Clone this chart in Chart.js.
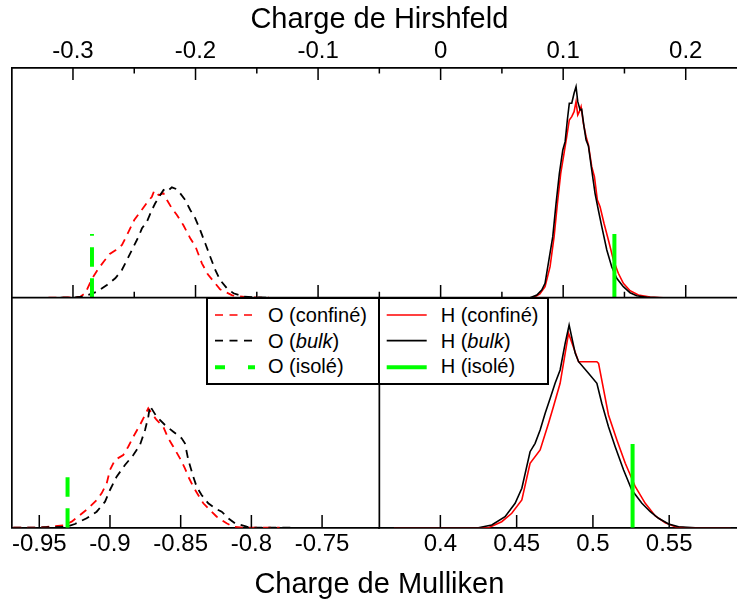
<!DOCTYPE html>
<html>
<head>
<meta charset="utf-8">
<script src="https://cdn.jsdelivr.net/npm/chart.js@4"></script>
<style>
html, body { margin: 0; padding: 0; overflow: hidden; background: #fff; }
#wrap { position: relative; width: 747px; height: 605px; }
#c { position: absolute; left: 0; top: 0; }
.box { position: absolute; box-sizing: border-box; border: 2px solid #000; background: #fff; }
.sep { position: absolute; background: #000; }
.txt { position: absolute; font: 20px "Liberation Sans", Arial, sans-serif; line-height: 20px; color: #000; white-space: nowrap; }
svg { position: absolute; left: 0; top: 0; }
</style>
</head>
<body>
<div id="wrap">
<canvas id="c" width="747" height="605"></canvas>
<div class="box" style="left:206px;top:297px;width:343px;height:88px"></div>
<div class="sep" style="left:378px;top:297px;width:2px;height:88px"></div>
<svg width="747" height="605">
  <line x1="215" y1="315" x2="255" y2="315" stroke="#ff0000" stroke-width="1.7" stroke-dasharray="8 6.5"/>
  <line x1="215" y1="340.7" x2="255" y2="340.7" stroke="#000" stroke-width="1.7" stroke-dasharray="8 6.5"/>
  <line x1="215" y1="367.3" x2="255" y2="367.3" stroke="#00ff00" stroke-width="4" stroke-dasharray="10 23"/>
  <line x1="386.7" y1="315" x2="426.7" y2="315" stroke="#ff0000" stroke-width="1.7"/>
  <line x1="386.7" y1="340.7" x2="426.7" y2="340.7" stroke="#000" stroke-width="1.7"/>
  <line x1="386.7" y1="367.3" x2="426.7" y2="367.3" stroke="#00ff00" stroke-width="4"/>
</svg>
<div class="txt" style="left:268px;top:304.7px">O (confiné)</div>
<div class="txt" style="left:268px;top:330.7px">O (<i>bulk</i>)</div>
<div class="txt" style="left:268px;top:356px">O (isolé)</div>
<div class="txt" style="left:440.7px;top:304.7px">H (confiné)</div>
<div class="txt" style="left:440.7px;top:330.7px">H (<i>bulk</i>)</div>
<div class="txt" style="left:440.7px;top:356px">H (isolé)</div>
</div>
<script>
// Hirshfeld charges (top panel)
const hirOConfX = [-0.32, -0.30, -0.294, -0.29, -0.2845, -0.28, -0.275, -0.27, -0.265, -0.26, -0.2546, -0.25, -0.245, -0.24, -0.2356, -0.2337, -0.2302, -0.2261, -0.2233, -0.2193, -0.2152, -0.21, -0.2043, -0.20, -0.1948, -0.19, -0.18, -0.17, -0.16, -0.15, -0.14]
const hirOConfY = [0, 0.04, 0.1, 0.44, 1.9, 2.77, 3.6, 4.37, 4.77, 5.27, 6.6, 7.77, 8.6, 9.44, 10.1, 10.7, 10.27, 10.44, 9.77, 8.94, 8.27, 7.27, 5.94, 5.1, 3.44, 2.34, 0.84, 0.24, 0.07, 0.02, 0]

const hirOBulkX = [-0.31, -0.30, -0.2913, -0.2804, -0.2723, -0.2655, -0.2601, -0.2546, -0.2506, -0.2465, -0.2437, -0.2397, -0.2356, -0.2329, -0.2288, -0.2261, -0.2233, -0.2193, -0.2152, -0.2125, -0.2084, -0.2043, -0.2002, -0.1962, -0.1921, -0.188, -0.1839, -0.1799, -0.1744, -0.169, -0.1608, -0.15, -0.14]
const hirOBulkY = [0, 0.02, 0.1, 0.6, 1.27, 1.94, 2.77, 4.1, 5.1, 6.1, 6.94, 7.6, 8.77, 9.44, 10.27, 10.77, 10.6, 11.04, 10.84, 10.44, 9.77, 8.77, 7.94, 6.77, 5.44, 4.1, 2.77, 1.77, 0.94, 0.44, 0.1, 0.04, 0]

const hirHConfX = [0.06, 0.0757, 0.081, 0.0852, 0.0893, 0.0926, 0.0953, 0.098, 0.1007, 0.1029, 0.105, 0.107, 0.1089, 0.1105, 0.1119, 0.1132, 0.1146, 0.1165, 0.1187, 0.1206, 0.1233, 0.1255, 0.1279, 0.1301, 0.1333, 0.1369, 0.141, 0.145, 0.1491, 0.1546, 0.1614, 0.171, 0.1817, 0.20]
const hirHConfY = [0, 0, 0.37, 1.1, 3.1, 6.1, 9.44, 12.44, 14.44, 16.1, 17.77, 18.1, 18.6, 19.6, 18.27, 18.6, 19.1, 17.44, 16.1, 15.27, 13.1, 12.1, 9.77, 9.1, 7.44, 5.77, 3.77, 2.44, 1.44, 0.7, 0.27, 0.07, 0, 0]

const hirHBulkX = [0.06, 0.073, 0.0785, 0.0825, 0.0852, 0.0888, 0.0915, 0.0942, 0.0969, 0.0997, 0.1016, 0.1034, 0.105, 0.107, 0.1089, 0.1105, 0.1119, 0.1138, 0.1151, 0.117, 0.1187, 0.1206, 0.1233, 0.126, 0.1287, 0.1315, 0.1356, 0.1396, 0.1437, 0.1491, 0.1546, 0.16, 0.1682, 0.179, 0.20]
const hirHBulkY = [0, 0, 0.27, 0.77, 1.44, 4.1, 6.1, 9.44, 12.44, 14.77, 15.6, 17.77, 19.44, 19.44, 20.44, 21.1, 19.6, 18.77, 18.84, 17.1, 15.77, 15.17, 12.77, 10.44, 8.77, 7.1, 4.77, 3.1, 1.94, 1.1, 0.5, 0.2, 0.04, 0, 0]

// Mulliken charges (bottom panel)
const mulOConfX = [-0.9684, -0.9542, -0.9448, -0.933, -0.9271, -0.9212, -0.9153, -0.9094, -0.9059, -0.9023, -0.90, -0.8965, -0.8906, -0.8871, -0.8835, -0.8788, -0.8752, -0.8729, -0.8705, -0.867, -0.8623, -0.8588, -0.8552, -0.8505, -0.847, -0.8446, -0.8411, -0.8376, -0.834, -0.8293, -0.8245, -0.8175, -0.8128, -0.8057, -0.78]
const mulOConfY = [0, 0, 0.07, 0.24, 0.6, 1.27, 1.94, 2.77, 3.44, 4.44, 5.77, 6.77, 7.27, 8.1, 9.1, 10.27, 11.27, 11.94, 11.44, 10.77, 10.1, 8.94, 8.1, 6.94, 5.94, 5.1, 4.1, 3.27, 2.44, 1.77, 1.1, 0.44, 0.1, 0, 0]

const mulOBulkX = [-0.9684, -0.9542, -0.9306, -0.9248, -0.9165, -0.9094, -0.9035, -0.90, -0.8953, -0.8894, -0.8835, -0.8788, -0.8752, -0.8729, -0.8717, -0.867, -0.8611, -0.8552, -0.8493, -0.847, -0.8446, -0.8411, -0.8387, -0.8352, -0.8305, -0.8257, -0.821, -0.8163, -0.8116, -0.8033, -0.7987, -0.77]
const mulOBulkY = [0, 0, 0.1, 0.37, 0.94, 1.6, 2.6, 3.77, 5.1, 6.27, 7.27, 8.27, 9.77, 11.1, 12.17, 11.1, 10.27, 9.6, 8.94, 8.44, 6.77, 5.1, 4.1, 3.27, 2.44, 1.94, 1.6, 0.94, 0.44, 0.1, 0, 0]

const mulHConfX = [0.37, 0.4315, 0.4402, 0.4468, 0.4534, 0.4588, 0.4654, 0.4709, 0.4741, 0.4785, 0.484, 0.4906, 0.5026, 0.5037, 0.5102, 0.5157, 0.5212, 0.5278, 0.5343, 0.5409, 0.5474, 0.554, 0.5606, 0.59]
const mulHConfY = [0, 0, 0.6, 1.44, 2.77, 6.44, 7.77, 10.44, 12.1, 14.44, 19.44, 16.6, 16.6, 16.44, 11.27, 8.77, 6.44, 4.1, 2.44, 1.17, 0.5, 0.1, 0, 0]

const mulHBulkX = [0.37, 0.4249, 0.4337, 0.4424, 0.449, 0.4534, 0.4588, 0.4621, 0.4654, 0.4687, 0.472, 0.4752, 0.4785, 0.4818, 0.4844, 0.4884, 0.4906, 0.4971, 0.5026, 0.5058, 0.5102, 0.5146, 0.5201, 0.5255, 0.5321, 0.5376, 0.543, 0.5496, 0.5562, 0.5671, 0.59]
const mulHBulkY = [0, 0, 0.27, 1.1, 2.44, 3.94, 7.6, 8.44, 9.77, 11.44, 12.94, 14.44, 15.77, 18.44, 20.27, 17.44, 16.6, 15.44, 14.44, 12.44, 10.1, 8.1, 5.77, 3.77, 2.44, 1.6, 0.94, 0.37, 0.1, 0, 0]

// isolated molecule charges [O, H] and marker heights
const isoleHirshX = [-0.2845, 0.1418]
const isoleHirshY = [6.37, 6.37]
const isoleMullX = [-0.93, 0.526]
const isoleMullY = [5.04, 8.37]

// axis ticks
const hirshTicks = [-0.3, -0.25, -0.2, -0.15, -0.1, -0.05, 0, 0.05, 0.1, 0.15, 0.2]
const hirshLabels = ['-0.3', '', '-0.2', '', '-0.1', '', '0', '', '0.1', '', '0.2']
const mulOTicks = [-0.95, -0.9, -0.85, -0.8, -0.75]
const mulOLabels = ['-0.95', '-0.9', '-0.85', '-0.8', '-0.75']
const mulHTicks = [0.4, 0.45, 0.5, 0.55]
const mulHLabels = ['0.4', '0.45', '0.5', '0.55']

const RED = '#ff0000', BLACK = '#000000', GREEN = '#00ff00'

function pts(xs, ys) {
	let out = []
	for(let i = 0; i < xs.length; ++i) out.push({x: xs[i], y: ys[i]})
	return out
}
function stick(x, h) {
	return [{x: x, y: 0}, {x: x, y: h}]
}

function line(data, color, xId, yId, opts) {
	return Object.assign({
		data: data,
		xAxisID: xId,
		yAxisID: yId,
		borderColor: color,
		borderWidth: 1.6,
		pointRadius: 0,
		fill: false,
		tension: 0,
		order: 2
	}, opts || {})
}

const dash = [8, 6]
const greenDash = [19.5, 11.5]

Chart.defaults.font.family = '"Liberation Sans", Arial, sans-serif'
Chart.defaults.color = '#000'

// the label paddings would shrink the plot area, the labels may overhang
function noPad(s) {
	s.paddingLeft = 0
	s.paddingRight = 0
	s.paddingTop = 0
	s.paddingBottom = 0
}

function xScale(pos, min, max, ticks, labels, h, extra) {
	return Object.assign({
		type: 'linear',
		position: pos,
		min: min,
		max: max,
		afterBuildTicks: s => { s.ticks = ticks.map(v => ({value: v})) },
		afterFit: s => { noPad(s); s.height = h },
		ticks: {
			autoSkip: false,
			maxRotation: 0,
			font: {size: 24},
			color: '#000',
			padding: pos === 'top' ? 1.6 : 2.3,
			callback: (v, i) => labels[i]
		},
		grid: {display: false, drawTicks: false},
		border: {display: true, color: '#000', width: 1.7}
	}, extra || {})
}

function yScale(weight) {
	return {
		type: 'linear',
		position: 'left',
		stack: 'panels',
		stackWeight: 1,
		weight: weight,
		min: 0,
		max: 23,
		afterFit: s => { noPad(s); s.width = 0 },
		ticks: {display: false},
		grid: {display: false, drawTicks: false},
		border: {display: true, color: '#000', width: 1.7}
	}
}

// inner tick marks, middle axis line and divider
const frame = {
	id: 'frame',
	afterDatasetsDraw(chart) {
		const ctx = chart.ctx
		const xH = chart.scales.xH, xO = chart.scales.xMO, xM = chart.scales.xMH
		const yT = chart.scales.yTop, yB = chart.scales.yBot
		ctx.save()
		ctx.strokeStyle = '#000'
		ctx.lineWidth = 1.7
		ctx.beginPath()
		ctx.moveTo(chart.chartArea.left, yT.bottom)
		ctx.lineTo(chart.chartArea.right, yT.bottom)
		ctx.moveTo(xO.right, yB.top)
		ctx.lineTo(xO.right, yB.bottom)
		ctx.stroke()
		ctx.lineWidth = 1.5
		ctx.beginPath()
		hirshTicks.forEach((v, i) => {
			const px = xH.getPixelForValue(v)
			const major = hirshLabels[i] !== ''
			ctx.moveTo(px, yT.top)
			ctx.lineTo(px, yT.top + (major ? 12.3 : 5.7))
			ctx.moveTo(px, yT.bottom)
			ctx.lineTo(px, yT.bottom - (major ? 12.7 : 6))
		})
		mulOTicks.forEach(v => {
			const px = xO.getPixelForValue(v)
			ctx.moveTo(px, yB.bottom)
			ctx.lineTo(px, yB.bottom - 12.7)
		})
		mulHTicks.forEach(v => {
			const px = xM.getPixelForValue(v)
			ctx.moveTo(px, yB.bottom)
			ctx.lineTo(px, yB.bottom - 12.7)
		})
		ctx.stroke()
		ctx.restore()
	}
}

new Chart(document.getElementById('c'), {
	type: 'line',
	data: {
		datasets: [
			line(stick(isoleHirshX[0], isoleHirshY[0]), GREEN, 'xH', 'yTop', {borderWidth: 4, borderDash: greenDash, order: 0}),
			line(stick(isoleHirshX[1], isoleHirshY[1]), GREEN, 'xH', 'yTop', {borderWidth: 4, order: 0}),
			line(stick(isoleMullX[0], isoleMullY[0]), GREEN, 'xMO', 'yBot', {borderWidth: 4, borderDash: greenDash, order: 0}),
			line(stick(isoleMullX[1], isoleMullY[1]), GREEN, 'xMH', 'yBot', {borderWidth: 4, order: 0}),
			line(pts(hirOBulkX, hirOBulkY), BLACK, 'xH', 'yTop', {borderDash: dash, borderWidth: 1.8, order: 1}),
			line(pts(hirOConfX, hirOConfY), RED, 'xH', 'yTop', {borderDash: dash, borderWidth: 1.8}),
			line(pts(hirHBulkX, hirHBulkY), BLACK, 'xH', 'yTop', {order: 1}),
			line(pts(hirHConfX, hirHConfY), RED, 'xH', 'yTop'),
			line(pts(mulOBulkX, mulOBulkY), BLACK, 'xMO', 'yBot', {borderDash: dash, borderWidth: 1.8, order: 1}),
			line(pts(mulOConfX, mulOConfY), RED, 'xMO', 'yBot', {borderDash: dash, borderWidth: 1.8}),
			line(pts(mulHBulkX, mulHBulkY), BLACK, 'xMH', 'yBot', {order: 1}),
			line(pts(mulHConfX, mulHConfY), RED, 'xMH', 'yBot')
		]
	},
	options: {
		responsive: false,
		animation: false,
		layout: {padding: {left: 11.7, right: 0, top: 0, bottom: 0}},
		plugins: {
			legend: {display: false},
			tooltip: {enabled: false},
			title: {
				display: true,
				position: 'bottom',
				text: 'Charge de Mulliken',
				color: '#000',
				font: {size: 29, weight: 'normal'},
				padding: {top: 0, bottom: 2.6}
			}
		},
		scales: {
			xH: xScale('top', -0.35, 0.25, hirshTicks, hirshLabels, 67.7, {
				title: {display: true, text: 'Charge de Hirshfeld', color: '#000', font: {size: 29}, padding: {top: 2.6, bottom: 0}}
			}),
			xMO: xScale('bottom', -0.9695, -0.7095, mulOTicks, mulOLabels, 39.9, {stack: 'mulliken', stackWeight: 1}),
			xMH: xScale('bottom', 0.36, 0.601, mulHTicks, mulHLabels, 39.9, {stack: 'mulliken', stackWeight: 1}),
			yBot: yScale(0),
			yTop: yScale(1)
		}
	},
	plugins: [frame]
});
</script>
</body>
</html>
